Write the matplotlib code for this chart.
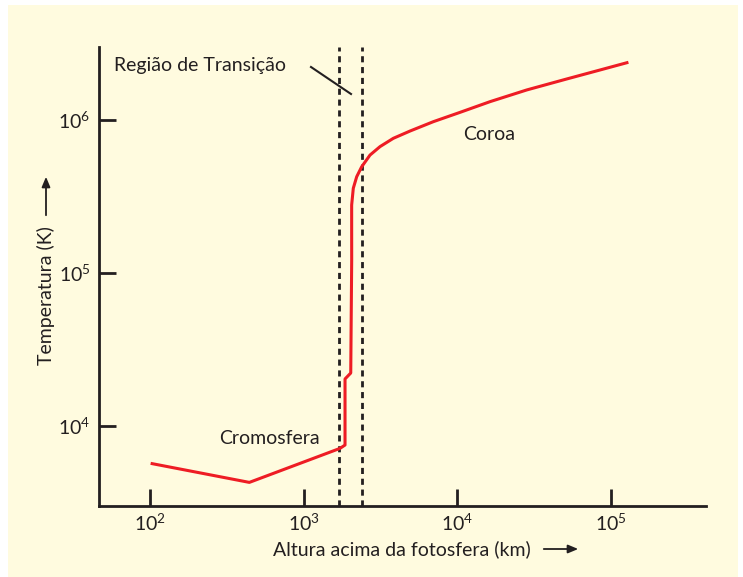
import matplotlib
matplotlib.use("Agg")
import matplotlib.pyplot as plt
from matplotlib.patches import Rectangle, FancyArrowPatch

plt.rcParams['font.family'] = ['Lato', 'DejaVu Sans']
plt.rcParams['mathtext.fontset'] = 'custom'
plt.rcParams['mathtext.rm'] = 'Lato'

# altura (km) e temperatura (K)
altura = [101, 443, 1722, 1857, 1857, 2023, 2052, 2051, 2051, 2102, 2212,
          2384, 2700, 3137, 3828, 4917, 6970, 10400, 16300, 28200, 51400,
          84700, 129500]
temperatura = [5700, 4280, 7140, 7510, 20300, 22200, 121700, 206000, 278000,
               358000, 426000, 495000, 590000, 670000, 759000, 847000,
               975000, 1122000, 1318000, 1571000, 1854000, 2123000, 2383000]

transicao = [1700, 2400]
xticks = [1e2, 1e3, 1e4, 1e5]
yticks = [1e4, 1e5, 1e6]

INK = '#231f20'
CREAM = '#fffbdf'
RED = '#ee1c24'
FS = 14

fig = plt.figure(figsize=(7.43, 5.77), dpi=100)
fig.patch.set_facecolor('white')
fig.patches.append(Rectangle((8 / 743, 0), 730 / 743, 572 / 577,
                             transform=fig.transFigure, facecolor=CREAM,
                             edgecolor='none', zorder=-5))

ax = fig.add_axes([99 / 743, 1 - 506 / 577, 607 / 743, (506 - 47) / 577])
ax.set_zorder(2)
ax.patch.set_alpha(0)
ax.set_xscale('log')
ax.set_yscale('log')
ax.set_xlim(46.6, 414000)
ax.set_ylim(3000, 3.0e6)

ax.plot(altura, temperatura, color=RED, lw=2.2, solid_joinstyle='round',
        solid_capstyle='butt', zorder=3)

for xv in transicao:
    ln, = ax.plot([xv, xv], [3000, 3.0e6], color=INK, lw=2.0, zorder=2)
    ln.set_dashes((2.2, 1.7))

for s in ['top', 'right']:
    ax.spines[s].set_visible(False)
for s in ['left', 'bottom']:
    ax.spines[s].set_linewidth(2.0)
    ax.spines[s].set_color(INK)

ax.minorticks_off()
ax.set_xticks(xticks)
ax.set_yticks(yticks)
ax.set_xticklabels([r'$\mathregular{10^{%d}}$' % e for e in (2, 3, 4, 5)])
ax.set_yticklabels([r'$\mathregular{10^{%d}}$' % e for e in (4, 5, 6)])
ax.tick_params(direction='in', length=12, width=2.0, color=INK,
               labelcolor=INK, labelsize=FS)
ax.tick_params(axis='x', pad=5)
ax.tick_params(axis='y', pad=6)


# posicoes em pixels da figura (y de cima para baixo)
def fx(px):
    return px / 743


def fy(py):
    return 1 - py / 577


fig.text(fx(463), fy(134), 'Coroa', fontsize=FS, color=INK,
         va='center', ha='left', zorder=5)
fig.text(fx(219), fy(439), 'Cromosfera', fontsize=FS, color=INK,
         va='center', ha='left', zorder=5)

fig.text(fx(114), fy(66), 'Região de Transição', fontsize=FS, color=INK,
         va='center', ha='left', zorder=5)
fig.add_artist(plt.Line2D([fx(311), fx(351)], [fy(67), fy(94)], color=INK,
                          lw=1.5, zorder=5))

fig.text(fx(402), fy(549), 'Altura acima da fotosfera (km)', fontsize=FS,
         color=INK, va='center', ha='center', zorder=5)
fig.add_artist(FancyArrowPatch(
    (fx(541), fy(549)), (fx(581), fy(549)), transform=fig.transFigure,
    arrowstyle='-|>,head_length=0.6,head_width=0.25', color=INK, lw=1.3,
    mutation_scale=10, zorder=5))

fig.text(fx(46), fy(296), 'Temperatura (K)', fontsize=FS, color=INK,
         va='center', ha='center', rotation=90, zorder=5)
fig.add_artist(FancyArrowPatch(
    (fx(46), fy(218)), (fx(46), fy(174)), transform=fig.transFigure,
    arrowstyle='-|>,head_length=0.6,head_width=0.25', color=INK, lw=1.3,
    mutation_scale=10, zorder=5))

fig.savefig('out.png', dpi=100)
